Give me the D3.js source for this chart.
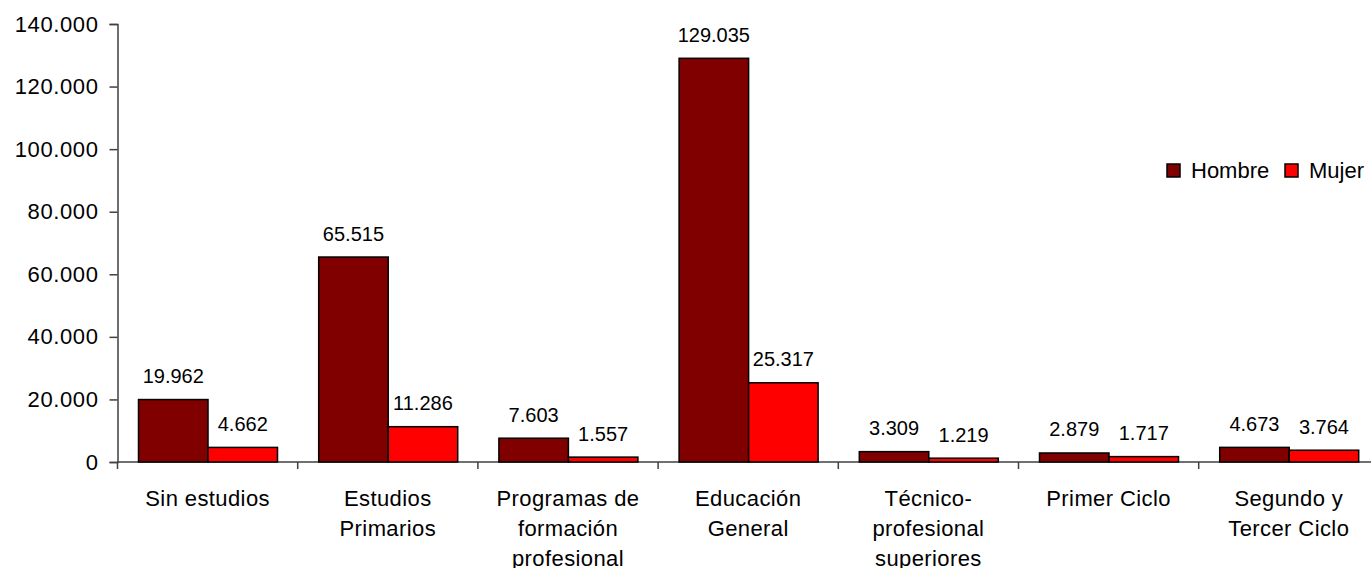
<!DOCTYPE html>
<html>
<head>
<meta charset="utf-8">
<script src="https://cdn.jsdelivr.net/npm/d3@7"></script>
<style>
  html, body { margin: 0; padding: 0; background: #ffffff; }
  svg { display: block; }
  text { font-family: "Liberation Sans", Arial, sans-serif; fill: #000; }
</style>
</head>
<body>
<script>
const categories = [
  ["Sin estudios"],
  ["Estudios", "Primarios"],
  ["Programas de", "formación", "profesional"],
  ["Educación", "General"],
  ["Técnico-", "profesional", "superiores"],
  ["Primer Ciclo"],
  ["Segundo y", "Tercer Ciclo"]
];
const seriesNames = ["Hombre", "Mujer"];
const hombre = [19962, 65515, 7603, 129035, 3309, 2879, 4673];
const mujer = [4662, 11286, 1557, 25317, 1219, 1717, 3764];
const yTicks = [0, 20000, 40000, 60000, 80000, 100000, 120000, 140000];
const colors = ["#800000", "#ff0000"];

const W = 1371, H = 568;
const svg = d3.select("body").append("svg").attr("width", W).attr("height", H);

const fmt = v => d3.format(",")(v).replace(/,/g, ".");

const catKeys = categories.map((c, i) => i);
const x = d3.scaleBand().domain(catKeys).range([117.5, 117.5 + 7 * 180.2]).padding(0);
const x1 = d3.scaleBand().domain(seriesNames).range([21, 21 + 139]).padding(0);
const y = d3.scaleLinear().domain([0, 140000]).range([462, 24]);

// Y axis
const yAxis = d3.axisLeft(y).tickValues(yTicks).tickSize(8).tickPadding(11).tickFormat(fmt);
const gy = svg.append("g").attr("transform", "translate(117.5,0)").call(yAxis);
gy.select(".domain").attr("stroke", "#404040").attr("stroke-width", 1.5);
gy.selectAll(".tick line").attr("stroke", "#404040").attr("stroke-width", 1.5);
gy.selectAll(".tick text").style("font-size", "22px").style("letter-spacing", "0.6px")
  .style("font-family", "Liberation Sans, Arial, sans-serif").attr("fill", "#000");

// X axis
const xAxis = d3.axisBottom(x).tickSize(0).tickFormat("");
const gx = svg.append("g").attr("transform", "translate(0,462)").call(xAxis);
gx.select(".domain").remove();
gx.append("line").attr("x1", 117.5).attr("x2", W).attr("y1", 0).attr("y2", 0)
  .attr("stroke", "#404040").attr("stroke-width", 1.5);
// category boundary ticks
const boundaries = d3.range(categories.length + 1).map(i => x.range()[0] + i * x.step());
gx.selectAll(".btick").data(boundaries).enter().append("line")
  .attr("x1", d => d).attr("x2", d => d).attr("y1", 0).attr("y2", 7)
  .attr("stroke", "#404040").attr("stroke-width", 1.5);

// Category labels
const labG = svg.append("g");
categories.forEach((lines, i) => {
  const t = labG.append("text")
    .attr("x", x(i) + x.bandwidth() / 2)
    .attr("y", 506)
    .attr("text-anchor", "middle")
    .style("font-size", "22px").style("letter-spacing", "0.4px");
  lines.forEach((ln, j) => {
    t.append("tspan").attr("x", x(i) + x.bandwidth() / 2).attr("dy", j === 0 ? 0 : 30).text(ln);
  });
});

// Bars
const data = catKeys.map(i => ({ i, vals: [hombre[i], mujer[i]] }));
const groups = svg.append("g").selectAll("g").data(data).enter().append("g")
  .attr("transform", d => `translate(${x(d.i)},0)`);
groups.selectAll("rect").data(d => d.vals.map((v, k) => ({ v, k }))).enter().append("rect")
  .attr("x", d => x1(seriesNames[d.k]))
  .attr("y", d => y(d.v))
  .attr("width", x1.bandwidth())
  .attr("height", d => y(0) - y(d.v))
  .attr("fill", d => colors[d.k])
  .attr("stroke", "#000").attr("stroke-width", 1.5);
groups.selectAll("text.val").data(d => d.vals.map((v, k) => ({ v, k }))).enter().append("text")
  .attr("class", "val")
  .attr("x", d => x1(seriesNames[d.k]) + x1.bandwidth() / 2)
  .attr("y", d => y(d.v) - 16.5)
  .attr("text-anchor", "middle")
  .style("font-size", "20px")
  .text(d => fmt(d.v));

// Legend
const legend = svg.append("g");
const legX = [1167, 1285];
seriesNames.forEach((s, k) => {
  legend.append("rect").attr("x", legX[k]).attr("y", 164).attr("width", 13).attr("height", 13)
    .attr("fill", colors[k]).attr("stroke", "#000").attr("stroke-width", 1.5);
  legend.append("text").attr("x", legX[k] + 24).attr("y", 178)
    .style("font-size", "22px").text(s);
});
</script>
</body>
</html>
